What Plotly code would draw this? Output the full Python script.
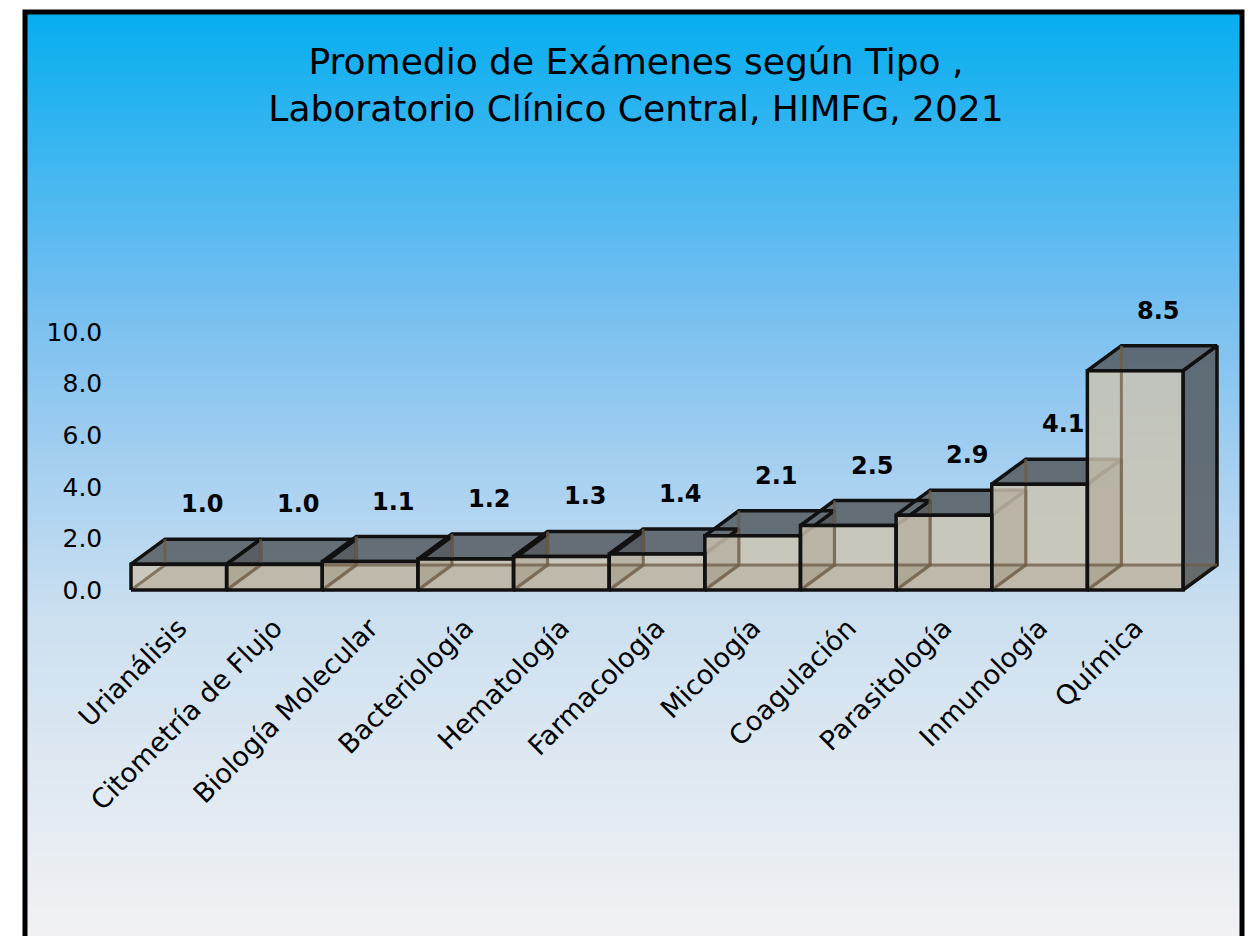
import plotly.graph_objects as go

# ---------------- data ----------------
categories = ["Urianálisis", "Citometría de Flujo", "Biología Molecular", "Bacteriología",
              "Hematología", "Farmacología", "Micología", "Coagulación", "Parasitología",
              "Inmunología", "Química"]
values = [1.0, 1.0, 1.1, 1.2, 1.3, 1.4, 2.1, 2.5, 2.9, 4.1, 8.5]
y_tick_values = [0, 2, 4, 6, 8, 10]
title_lines = ["Promedio de Exámenes según Tipo ,", "Laboratorio Clínico Central, HIMFG, 2021"]

# ---------------- geometry (pixels) ----------------
W, H = 1252, 936
X_LEFT_PX, X_RIGHT_PX = 131, 1183      # front faces span
Y0_PX, Y10_PX = 590, 332               # value 0 and value 10
PX_PER_CAT = (X_RIGHT_PX - X_LEFT_PX) / len(categories)
PX_PER_UNIT = (Y0_PX - Y10_PX) / 10
DX = 34 / PX_PER_CAT                    # depth offset in category units
DY = 25 / PX_PER_UNIT                   # depth offset in value units

xr = [-0.56, len(categories) - 0.5 + DX + 0.25]
yr = [-0.15, 12.2]
dom_x = [(X_LEFT_PX + (xr[0] + 0.5) * PX_PER_CAT) / W, (X_LEFT_PX + (xr[1] + 0.5) * PX_PER_CAT) / W]
dom_y = [(H - (Y0_PX - yr[0] * PX_PER_UNIT)) / H, (H - (Y0_PX - yr[1] * PX_PER_UNIT)) / H]

FONT = "DejaVu Sans"
EDGE = "#111111"
EDGE_W = 3.5

idx = list(range(len(categories)))


def poly(pts):
    xs = [p[0] for p in pts] + [pts[0][0], None]
    ys = [p[1] for p in pts] + [pts[0][1], None]
    return xs, ys


right_x, right_y, top_x, top_y = [], [], [], []
bot_x, bot_y, hid_x, hid_y, fr_x, fr_y = [], [], [], [], [], []
for i, v in zip(idx, values):
    l, r = i - 0.5, i + 0.5
    xs, ys = poly([(r, 0), (r + DX, DY), (r + DX, v + DY), (r, v)])
    right_x += xs; right_y += ys
    xs, ys = poly([(l, v), (r, v), (r + DX, v + DY), (l + DX, v + DY)])
    top_x += xs; top_y += ys
    xs, ys = poly([(l, 0), (r, 0), (r + DX, DY), (l + DX, DY)])
    bot_x += xs; bot_y += ys
    # hidden edges: bottom-left diagonal, back-left vertical, back-bottom
    hid_x += [l, l + DX, l + DX, None, l + DX, r + DX, None]
    hid_y += [0, DY, v + DY, None, DY, DY, None]
    xs, ys = poly([(l, 0), (r, 0), (r, v), (l, v)])
    fr_x += xs; fr_y += ys

fig = go.Figure()

# base layer: right and top faces
fig.add_trace(go.Scatter(x=right_x, y=right_y, mode="lines", fill="toself",
                         fillcolor="rgba(86,92,96,0.85)", line=dict(color=EDGE, width=EDGE_W),
                         hoverinfo="skip", showlegend=False, xaxis="x", yaxis="y"))
fig.add_trace(go.Scatter(x=top_x, y=top_y, mode="lines", fill="toself",
                         fillcolor="rgba(86,92,96,0.85)", line=dict(color=EDGE, width=EDGE_W),
                         hoverinfo="skip", showlegend=False, xaxis="x", yaxis="y"))

# overlay layer: translucent front faces (bars), bottom tint, hidden edges, outlines
fig.add_trace(go.Bar(x=idx, y=values, width=1.0,
                     marker=dict(color="rgba(204,195,176,0.82)", line=dict(width=0)),
                     hoverinfo="skip", showlegend=False, xaxis="x2", yaxis="y2"))
fig.add_trace(go.Scatter(x=bot_x, y=bot_y, mode="lines", fill="toself",
                         fillcolor="rgba(110,80,40,0.12)", line=dict(width=0),
                         hoverinfo="skip", showlegend=False, xaxis="x2", yaxis="y2"))
fig.add_trace(go.Scatter(x=hid_x, y=hid_y, mode="lines",
                         line=dict(color="rgba(110,92,70,0.75)", width=3),
                         hoverinfo="skip", showlegend=False, xaxis="x2", yaxis="y2"))
fig.add_trace(go.Scatter(x=fr_x, y=fr_y, mode="lines",
                         line=dict(color=EDGE, width=EDGE_W),
                         hoverinfo="skip", showlegend=False, xaxis="x2", yaxis="y2"))

# value labels
for i, v in zip(idx, values):
    fig.add_annotation(x=i + DX * 0.7, y=v + DY, xref="x", yref="y", text=f"<b>{v:.1f}</b>",
                       showarrow=False, yshift=35, font=dict(family=FONT, size=24, color="#000000"))

# background gradient
stops = [(0.0, (5, 174, 240)), (0.31, (115, 190, 240)), (0.47, (160, 205, 240)),
         (0.66, (205, 224, 240)), (1.0, (241, 241, 243))]
top_px, bot_px = 12, H
N = 200
shapes = []
for k in range(N):
    t = (k + 0.5) / N
    for j in range(len(stops) - 1):
        if stops[j][0] <= t <= stops[j + 1][0]:
            a, b = stops[j], stops[j + 1]
            f = (t - a[0]) / (b[0] - a[0])
            c = tuple(round(a[1][m] + (b[1][m] - a[1][m]) * f) for m in range(3))
            break
    y_top = top_px + (bot_px - top_px) * k / N
    y_bot = top_px + (bot_px - top_px) * (k + 1) / N + 1.0
    shapes.append(dict(type="rect", xref="paper", yref="paper", layer="below",
                       x0=25 / W, x1=1242 / W, y0=1 - y_bot / H, y1=1 - y_top / H,
                       fillcolor=f"rgb{c}", line=dict(width=0)))
shapes.append(dict(type="rect", xref="paper", yref="paper", layer="above",
                   x0=25 / W, x1=1242 / W, y0=-0.05, y1=1 - 12 / H,
                   fillcolor="rgba(0,0,0,0)", line=dict(color="#000000", width=5)))

axis_common = dict(showgrid=False, zeroline=False, showline=False, automargin=False)
fig.update_layout(
    template="none",
    width=W, height=H,
    margin=dict(l=0, r=0, t=0, b=0, pad=0, autoexpand=False),
    paper_bgcolor="#ffffff", plot_bgcolor="rgba(0,0,0,0)",
    shapes=shapes,
    bargap=0,
    title=dict(text="<br>".join(title_lines), x=0.508, xanchor="center", y=1 - 74 / H, yanchor="middle",
               font=dict(family=FONT, size=36, color="#000000")),
    xaxis=dict(domain=dom_x, range=xr, tickmode="array",
               tickvals=idx, ticktext=categories, tickangle=-45,
               tickfont=dict(family=FONT, size=27, color="#000000"),
               ticks="", ticklabelstandoff=12, **axis_common),
    yaxis=dict(domain=dom_y, range=yr, tickmode="array", tickvals=y_tick_values,
               tickformat=".1f", tickfont=dict(family=FONT, size=25, color="#000000"),
               ticks="", ticklabelstandoff=22, **axis_common),
    xaxis2=dict(range=xr, overlaying="x", visible=False),
    yaxis2=dict(range=yr, overlaying="y", visible=False),
    showlegend=False,
)

fig.write_html("out.html", config={"displayModeBar": False},
               post_script="document.body.style.margin='0';document.body.style.overflow='hidden';")
